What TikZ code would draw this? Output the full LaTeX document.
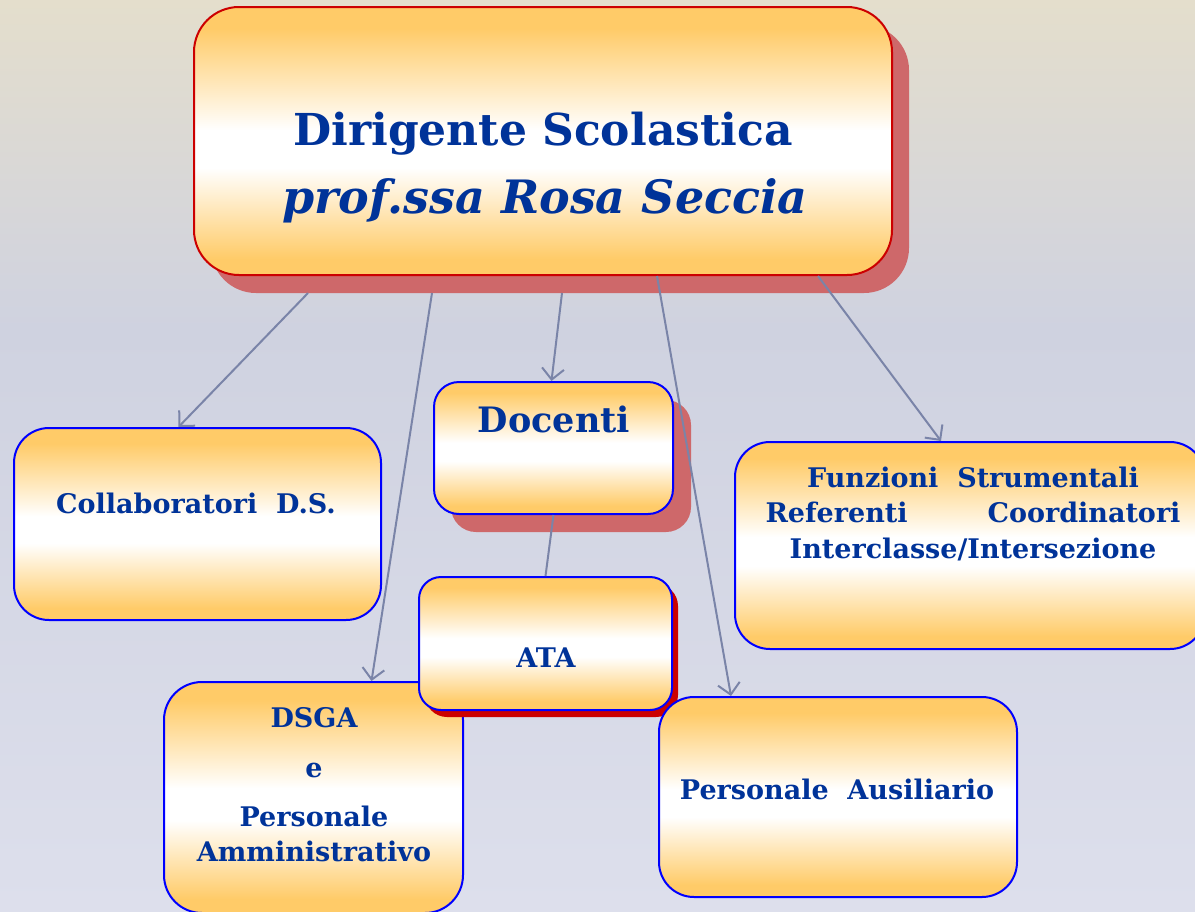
\documentclass[tikz,border=0pt]{standalone}
\usepackage{fontspec}
\setmainfont{DejaVu Serif}
\usetikzlibrary{arrows.meta}
\definecolor{txt}{RGB}{0,51,153}
\definecolor{bgtop}{RGB}{228,222,204}
\definecolor{bgmid}{RGB}{207,210,224}
\definecolor{bgbot}{RGB}{221,223,236}
\definecolor{orng}{RGB}{255,203,104}
\definecolor{shsalmon}{RGB}{206,104,106}
\definecolor{shred}{RGB}{204,0,0}
\definecolor{conncol}{RGB}{122,132,168}
\definecolor{bblue}{RGB}{0,0,255}
\definecolor{bred}{RGB}{204,0,0}
\pgfdeclareverticalshading{boxshade}{100bp}{%
  color(0bp)=(orng); color(28bp)=(orng); color(45bp)=(white); color(52bp)=(white);
  color(71bp)=(orng); color(100bp)=(orng)}
\tikzset{
  boxb/.style={draw=bblue, line width=2pt, shading=boxshade, inner sep=0pt},
  boxr/.style={draw=bred, line width=2pt, shading=boxshade, inner sep=0pt},
  conn/.style={draw=conncol, line width=2pt, -{Straight Barb[length=11pt,width=22pt,line width=2pt]}},
  plain/.style={draw=conncol, line width=2pt},
  lbl/.style={text=txt, font=\bfseries\fontsize{27}{32}\selectfont, anchor=base, inner sep=0pt},
}
\begin{document}
\begin{tikzpicture}[x=1pt,y=-1pt]
\shade[top color=bgtop, bottom color=bgmid] (0,0) rectangle (1195,330);
\shade[top color=bgmid, bottom color=bgbot] (0,329) rectangle (1195,911);
\useasboundingbox (0,0) rectangle (1195,911);
% shadows
\fill[shsalmon, rounded corners=45pt] (211,25) rectangle (909,293);
\fill[shsalmon, rounded corners=25pt] (451,400) rectangle (691,532);
% boxes
\node[boxr, rounded corners=45pt, minimum width=698pt, minimum height=268pt] (top) at (543,141) {};
\node[boxb, rounded corners=35pt, minimum width=367pt, minimum height=192pt] (collab) at (197.5,524) {};
\node[boxb, rounded corners=25pt, minimum width=239pt, minimum height=132pt] (doc) at (553.5,448) {};
\node[boxb, rounded corners=35pt, minimum width=470pt, minimum height=207pt] (fun) at (970,545.5) {};
\node[boxb, rounded corners=38pt, minimum width=299pt, minimum height=231pt] (dsga) at (313.5,797.5) {};
\fill[shred, rounded corners=22pt] (425,584) rectangle (678,717);
\node[boxb, rounded corners=22pt, minimum width=253pt, minimum height=133pt] (ata) at (545.5,643.5) {};
\node[boxb, rounded corners=35pt, minimum width=358pt, minimum height=200pt] (pa) at (838,797) {};
% connectors
\draw[conn] ([xshift=-235pt,yshift=-17pt]top.south) -- ([xshift=-19pt]collab.north);
\draw[conn] ([xshift=-111pt,yshift=-17pt]top.south) -- ([xshift=58pt]dsga.north);
\draw[conn] ([xshift=19pt,yshift=-17pt]top.south) -- ([xshift=-2pt]doc.north);
\draw[conn] ([xshift=114pt]top.south) -- ([xshift=-107pt]pa.north);
\draw[conn] ([xshift=275pt]top.south) -- ([xshift=-29pt]fun.north);
\draw[plain] (doc.south) -- (ata.north);
% texts
\node[lbl, font=\bfseries\fontsize{44}{50}\selectfont] (t1) at (543,145) {Dirigente Scolastica};
\node[lbl, font=\bfseries\itshape\fontsize{46}{52}\selectfont] (t2) at (545,213) {prof.ssa Rosa Seccia};
\node[lbl] (tcol) at (196,513) {Collaboratori\ \ D.S.};
\node[lbl, font=\bfseries\fontsize{35}{40}\selectfont] (tdoc) at (554,432) {Docenti};
\node[lbl] (tf1) at (973,487) {Funzioni\ \ Strumentali};
\node[lbl, text width=415pt] (tf2) at (973,522) {Referenti\hfill Coordinatori};
\node[lbl] (tf3) at (973,558) {Interclasse/Intersezione};
\node[lbl] (tata) at (546,667) {ATA};
\node[lbl] (td1) at (314,727) {DSGA};
\node[lbl] (td2) at (314,777) {e};
\node[lbl] (td3) at (314,826) {Personale};
\node[lbl] (td4) at (314,861) {Amministrativo};
\node[lbl] (tpa) at (837,799) {Personale\ \ Ausiliario};
\end{tikzpicture}
\end{document}
